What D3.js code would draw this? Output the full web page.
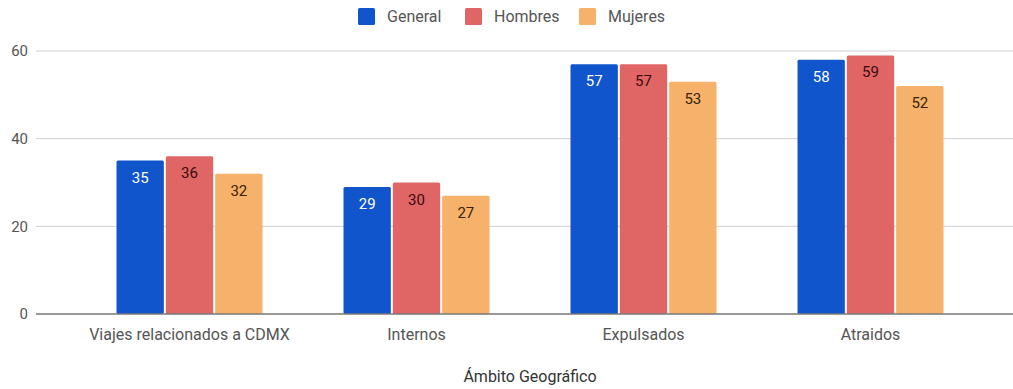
<!DOCTYPE html>
<html><head><meta charset="utf-8">
<script src="https://cdn.jsdelivr.net/npm/d3@7"></script>
<style>body{margin:0;background:#fff}svg{display:block;font-family:Roboto,"Noto Sans",sans-serif}</style>
</head><body><svg id="c" width="1013" height="389"></svg>
<script>
const categories = ["Viajes relacionados a CDMX", "Internos", "Expulsados", "Atraidos"];
const seriesNames = ["General", "Hombres", "Mujeres"];
const general = [35, 29, 57, 58];
const hombres = [36, 30, 57, 59];
const mujeres = [32, 27, 53, 52];
const yTicks = [0, 20, 40, 60];
const colors = ["#1155cc", "#e06666", "#f6b26b"];
const labelColors = ["#ffffff", "#3a0a0a", "#3a2200"];
const xTitle = "Ámbito Geográfico";

const series = [general, hombres, mujeres];
const svg = d3.select("#c");
const gridLeft = 36, gridRight = 1013;
const y = d3.scaleLinear().domain([0, 60]).range([314, 51]);
const x = d3.scaleBand().domain(categories).range([76, 984]).paddingInner(0).paddingOuter(0);
const xs = d3.scaleBand().domain(seriesNames).range([0, 146]).paddingInner(0.04);
const groupOff = (x.bandwidth() - 146) / 2;

// grid
svg.append("g").selectAll("line").data(yTicks.filter(d => d !== 0)).join("line")
  .attr("x1", gridLeft).attr("x2", gridRight)
  .attr("y1", d => y(d)).attr("y2", d => y(d))
  .attr("stroke", "#d0d0d0").attr("stroke-width", 1);

// y tick labels via axis
const yAxis = svg.append("g").attr("transform", `translate(${gridLeft - 8},0)`)
  .call(d3.axisLeft(y).tickValues(yTicks).tickSize(0).tickPadding(0));
yAxis.select(".domain").remove();
yAxis.selectAll("text").attr("fill", "#555").attr("font-size", 15).style("font-family", "Roboto");

// bars
const groups = svg.append("g").selectAll("g").data(categories).join("g")
  .attr("transform", d => `translate(${x(d) + groupOff},0)`);
groups.each(function(cat, ci) {
  const g = d3.select(this);
  seriesNames.forEach((s, si) => {
    const v = series[si][ci];
    g.append("rect").attr("x", xs(s)).attr("y", y(v))
      .attr("width", xs.bandwidth()).attr("height", y(0) - y(v))
      .attr("rx", 1.5).attr("fill", colors[si]);
    g.append("text").attr("x", xs(s) + xs.bandwidth() / 2).attr("y", y(v) + 22)
      .attr("text-anchor", "middle").attr("font-size", 15)
      .attr("fill", labelColors[si]).text(v);
  });
});

// zero line
svg.append("line").attr("x1", gridLeft).attr("x2", gridRight)
  .attr("y1", y(0)).attr("y2", y(0)).attr("stroke", "#777").attr("stroke-width", 1.5);

// x axis labels
const xAxis = svg.append("g").attr("transform", `translate(0,${y(0)})`)
  .call(d3.axisBottom(x).tickSize(0).tickPadding(14.5));
xAxis.select(".domain").remove();
xAxis.selectAll("text").attr("fill", "#555").attr("font-size", 16).style("font-family", "Roboto");

// x title
svg.append("text").attr("x", 530).attr("y", 382).attr("text-anchor", "middle")
  .attr("font-size", 16).attr("fill", "#333").text(xTitle);

// legend
const legendX = [358, 465, 579];
const lg = svg.append("g").selectAll("g").data(seriesNames).join("g")
  .attr("transform", (d, i) => `translate(${legendX[i]},8)`);
lg.append("rect").attr("width", 17).attr("height", 17).attr("rx", 1.5).attr("fill", (d, i) => colors[i]);
lg.append("text").attr("x", 29).attr("y", 14).attr("font-size", 16).attr("fill", "#555").text(d => d);
</script></body></html>
